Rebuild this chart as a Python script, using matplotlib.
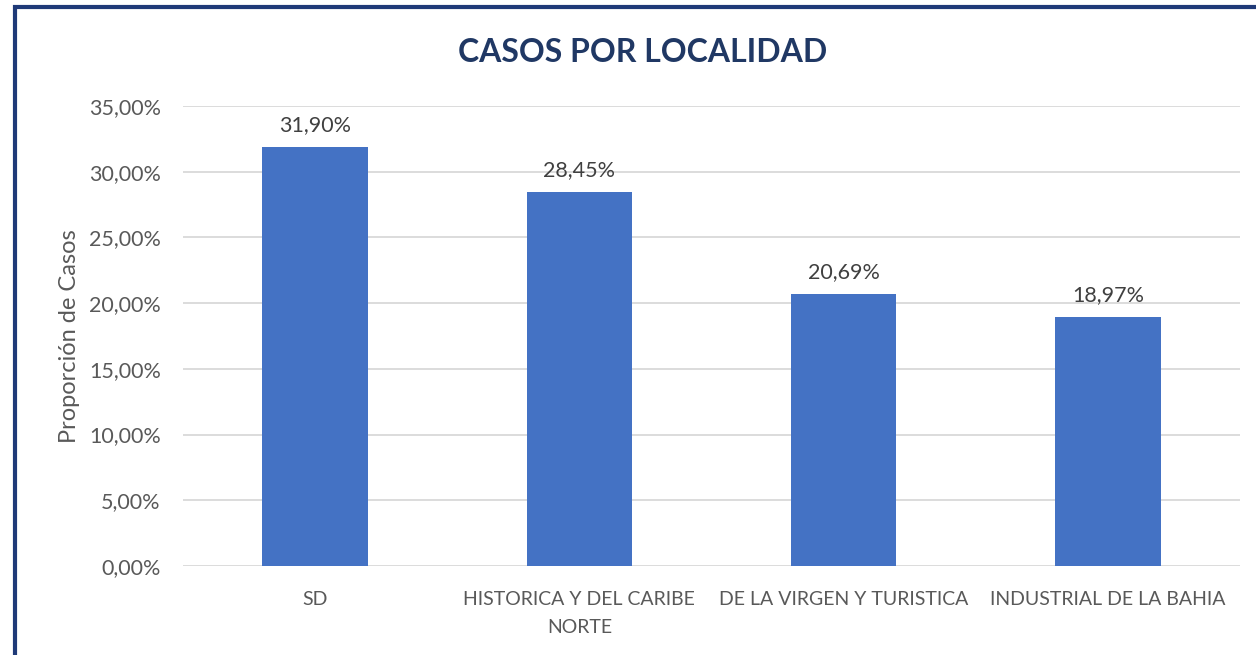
import matplotlib
matplotlib.use("Agg")
import matplotlib.pyplot as plt
from matplotlib.ticker import FuncFormatter, MultipleLocator
from matplotlib.patches import Rectangle

categories = ["SD", "HISTORICA Y DEL CARIBE\nNORTE", "DE LA VIRGEN Y TURISTICA", "INDUSTRIAL DE LA BAHIA"]
values = [31.90, 28.45, 20.69, 18.97]

plt.rcParams['font.family'] = ['Lato', 'DejaVu Sans']

fig = plt.figure(figsize=(12.56, 6.55), dpi=100)
ax = fig.add_axes([183/1256, 89/655, (1240-183)/1256, (566-106)/655])

x = list(range(len(categories)))
bars = ax.bar(x, values, width=0.4, color="#4472C4", zorder=3)
for xi, v in zip(x, values):
    ax.text(xi, v + 0.9, f"{v:.2f}%".replace(".", ","), ha="center", va="bottom",
            fontsize=15.5, color="#404040")

ax.set_xlim(-0.5, len(categories) - 0.5)
ax.set_ylim(0, 35)
ax.yaxis.set_major_locator(MultipleLocator(5))
ax.yaxis.set_major_formatter(FuncFormatter(lambda v, p: f"{v:.2f}%".replace(".", ",")))
ax.set_xticks(x)
ax.set_xticklabels(categories, fontsize=14, color="#595959", linespacing=1.8)
ax.tick_params(axis="y", labelsize=15.5, labelcolor="#595959", length=0, pad=16)
ax.tick_params(axis="x", length=0, pad=18)
ax.grid(axis="y", color="#D9D9D9", linewidth=1.3, zorder=0)
for s in ax.spines.values():
    s.set_visible(False)
ax.set_ylabel("Proporción de Casos", fontsize=17, color="#595959", labelpad=6)

fig.text(643/1256, 1 - 52/655, "CASOS POR LOCALIDAD", ha="center", va="center",
         fontsize=23, fontweight="bold", color="#203864")

# outer border (left and top visible)
fig.add_artist(Rectangle((15/1256, -0.1), 1.2, 1 - 7/655 + 0.1, transform=fig.transFigure,
                         fill=False, edgecolor="#1F3A78", linewidth=3))

fig.savefig("out.png", dpi=100)
